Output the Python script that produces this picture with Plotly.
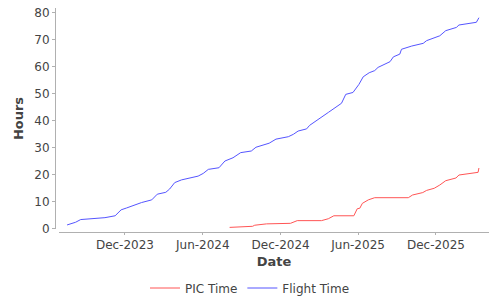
import plotly.graph_objects as go

pic_dates = ["2024-08-03","2024-09-26","2024-10-01","2024-10-29","2024-12-24","2025-01-09","2025-03-07","2025-03-23","2025-04-05","2025-05-22","2025-05-30","2025-06-05","2025-06-11","2025-06-25","2025-07-10","2025-09-27","2025-10-07","2025-10-31","2025-11-09","2025-11-27","2025-12-10","2025-12-24","2026-01-17","2026-01-24","2026-03-10","2026-03-12"]
pic_vals = [0.4,0.8,1.2,1.7,1.9,2.9,2.9,3.6,4.7,4.7,7.3,7.5,9.3,10.6,11.4,11.4,12.4,13.3,14.1,14.9,16.1,17.7,18.7,19.8,20.8,22.4]

flight_dates = ["2023-07-18","2023-08-07","2023-08-19","2023-10-15","2023-11-08","2023-11-22","2023-12-05","2024-01-09","2024-02-02","2024-02-15","2024-03-06","2024-03-15","2024-03-27","2024-04-12","2024-05-21","2024-06-02","2024-06-14","2024-07-09","2024-07-23","2024-08-11","2024-08-29","2024-09-23","2024-10-04","2024-11-04","2024-11-20","2024-12-19","2024-12-31","2025-01-11","2025-01-31","2025-02-07","2025-03-23","2025-04-23","2025-05-03","2025-05-20","2025-06-03","2025-06-13","2025-06-27","2025-07-10","2025-07-18","2025-08-15","2025-08-23","2025-09-07","2025-09-11","2025-10-05","2025-11-01","2025-11-09","2025-12-10","2025-12-24","2026-01-18","2026-01-24","2026-03-06","2026-03-12"]
flight_vals = [1.3,2.3,3.3,4.0,4.7,6.9,7.6,9.6,10.6,12.7,13.4,14.6,17.0,18.0,19.4,20.4,21.9,22.5,25.0,26.2,28.1,28.7,30.1,31.6,33.1,34.0,34.9,36.1,36.9,38.2,43.0,46.4,49.7,50.4,53.4,56.2,57.7,58.5,59.7,61.8,63.6,64.6,66.4,67.6,68.6,69.6,71.4,73.3,74.5,75.4,76.4,78.1]

x_tick_vals = ["2023-12-01","2024-06-01","2024-12-01","2025-06-01","2025-12-01"]
x_tick_text = ["Dec-2023","Jun-2024","Dec-2024","Jun-2025","Dec-2025"]
y_tick_vals = [0,10,20,30,40,50,60,70,80]

fig = go.Figure()
fig.add_trace(go.Scatter(x=pic_dates, y=pic_vals, mode="lines", name="PIC Time",
                         line=dict(color="#FF5555", width=1)))
fig.add_trace(go.Scatter(x=flight_dates, y=flight_vals, mode="lines", name="Flight Time",
                         line=dict(color="#5555FF", width=1)))

font_fam = "DejaVu Sans"
fig.update_layout(
    width=500, height=300,
    margin=dict(l=55, r=11, t=8, b=68, autoexpand=False),
    paper_bgcolor="white", plot_bgcolor="white",
    font=dict(family=font_fam, size=12, color="#444444"),
    showlegend=True,
    legend=dict(orientation="h", xref="container", yref="container",
                x=0.5, xanchor="center", y=0.04, yanchor="middle",
                font=dict(size=12, color="#444444"), itemwidth=30,
                bgcolor="rgba(0,0,0,0)"),
    xaxis=dict(
        type="date", domain=[0.0092, 1],
        range=["2023-06-29", "2026-04-04 16:00"],
        anchor="free", position=0, automargin=False,
        tickvals=x_tick_vals, ticktext=x_tick_text,
        ticks="outside", ticklen=2, tickcolor="#b0b0b0",
        showline=True, linecolor="#b0b0b0", linewidth=1,
        showgrid=False, zeroline=False,
        tickfont=dict(size=12, color="#444444"),
        title=dict(text="<b>Date</b>", font=dict(size=13, color="#444444"), standoff=5),
    ),
    yaxis=dict(
        domain=[0.0134, 1],
        range=[-0.2, 81.7],
        anchor="free", position=0, automargin=False,
        tickvals=y_tick_vals,
        ticks="outside", ticklen=3, tickcolor="#b0b0b0",
        showline=True, linecolor="#b0b0b0", linewidth=1,
        showgrid=False, zeroline=False,
        tickfont=dict(size=12, color="#444444"),
        title=dict(text="<b>Hours</b>", font=dict(size=13, color="#444444"), standoff=6),
    ),
)

fig.write_html("out.html")
